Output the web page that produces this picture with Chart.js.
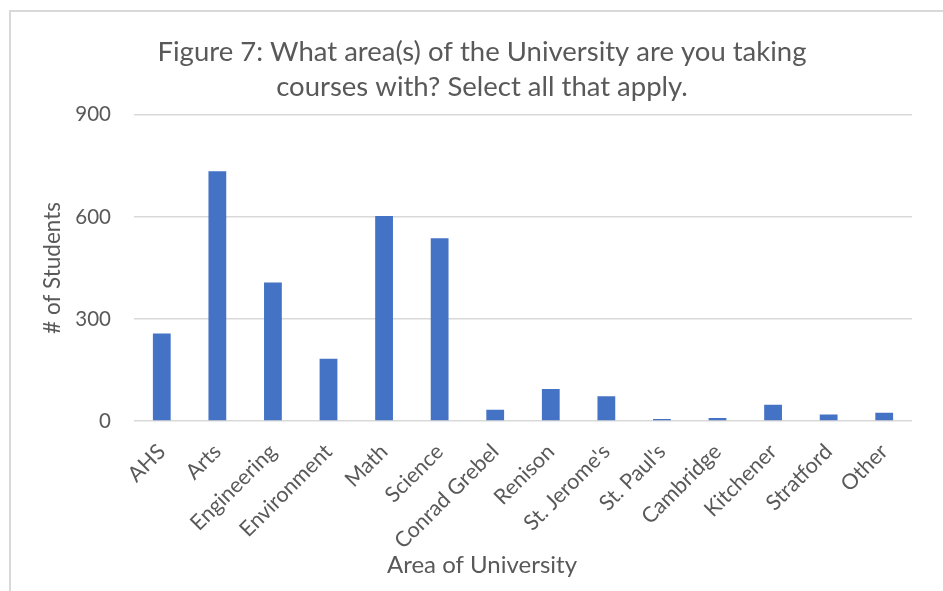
<!DOCTYPE html>
<html>
<head>
<meta charset="utf-8">
<script src="https://cdn.jsdelivr.net/npm/chart.js@4.4.1/dist/chart.umd.min.js"></script>
<style>
  html, body { margin: 0; padding: 0; background: #ffffff; }
  body { width: 943px; height: 591px; position: relative; overflow: hidden; }
  #frame { position: absolute; left: 9px; top: 10px; width: 960px; height: 600px;
           border-left: 2px solid #d9d9d9; border-top: 2px solid #d9d9d9; box-sizing: border-box; }
  #wrap { position: absolute; left: 21px; top: 0; width: 922px; height: 591px; }
</style>
</head>
<body>
<div id="frame"></div>
<div id="wrap"><canvas id="c" width="922" height="591"></canvas></div>
<script>
const categories = ["AHS", "Arts", "Engineering", "Environment", "Math", "Science", "Conrad Grebel",
  "Renison", "St. Jerome's", "St. Paul's", "Cambridge", "Kitchener", "Stratford", "Other"];
const students = [257, 734, 407, 183, 603, 537, 33, 94, 73, 6, 9, 48, 19, 24];
const yTicks = [0, 300, 600, 900];
const titleLines = ["Figure 7: What area(s) of the University are you taking", "courses with? Select all that apply."];
const xTitle = "Area of University";
const yTitle = "# of Students";

const FONT = "Lato, 'Open Sans', sans-serif";
const GREY = "#595959";

new Chart(document.getElementById('c'), {
  type: 'bar',
  data: {
    labels: categories,
    datasets: [{
      data: students,
      backgroundColor: '#4472C4',
      borderWidth: 0,
      barPercentage: 0.32,
      categoryPercentage: 1.0
    }]
  },
  options: {
    responsive: false,
    animation: false,
    layout: { padding: { left: 31, right: 31, top: 0, bottom: 0 } },
    plugins: {
      legend: { display: false },
      tooltip: { enabled: false },
      title: {
        display: true,
        text: titleLines,
        color: GREY,
        font: { family: FONT, size: 27.5, weight: 'normal', lineHeight: 1.27 },
        padding: { top: 34.5, bottom: 10.5 }
      },
      subtitle: {
        display: true,
        position: 'bottom',
        text: xTitle,
        color: GREY,
        font: { family: FONT, size: 24, weight: 'normal', lineHeight: 1.2 },
        padding: { top: 0, bottom: 11.6 }
      }
    },
    scales: {
      x: {
        grid: { display: false },
        border: { display: false },
        ticks: {
          color: GREY,
          font: { family: FONT, size: 21.5 },
          minRotation: 45,
          maxRotation: 45,
          autoSkip: false,
          padding: 10
        },
        afterFit: (s) => { s.height = 129.6; }
      },
      y: {
        min: 0,
        max: 900,
        afterBuildTicks: (s) => { s.ticks = yTicks.map(v => ({ value: v })); },
        grid: { color: '#d9d9d9', lineWidth: 1.5, drawTicks: false },
        border: { display: false },
        ticks: {
          color: GREY,
          font: { family: FONT, size: 20.5 },
          padding: 23
        },
        title: {
          display: true,
          text: yTitle,
          color: GREY,
          font: { family: FONT, size: 22.5, lineHeight: 0.1 },
          padding: { top: 0, bottom: 0 }
        },
        afterFit: (s) => { s.width = 82; }
      }
    }
  }
});
</script>
</body>
</html>
